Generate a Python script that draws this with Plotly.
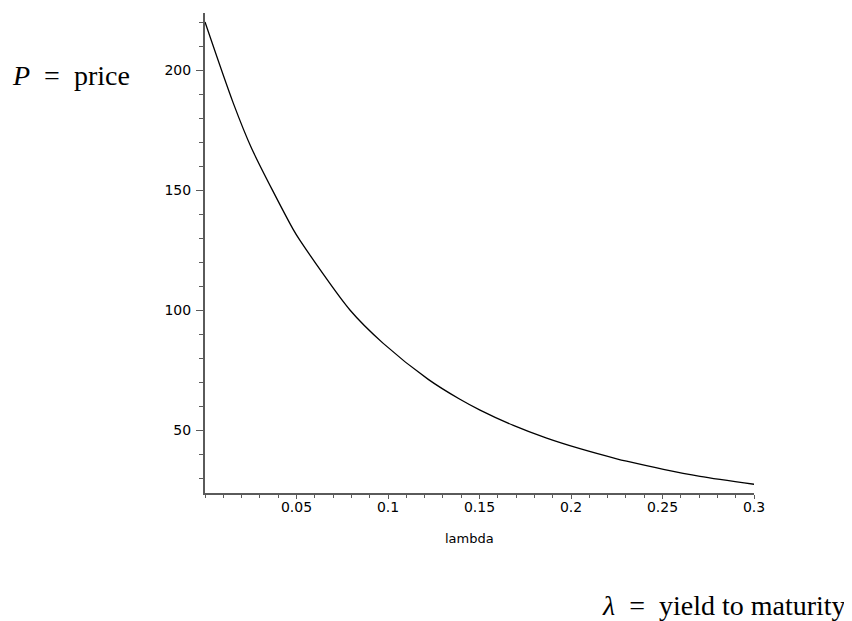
import plotly.graph_objects as go

# values
lam = [0.0, 0.0155, 0.0255, 0.0481, 0.0519, 0.0792, 0.0974, 0.122, 0.1393,
       0.1503, 0.1685, 0.1867, 0.2049, 0.225, 0.2304, 0.2505, 0.2705, 0.3]
price = [220.0, 186.1, 167.3, 133.7, 129.0, 100.0, 86.1, 71.1, 62.8,
         58.3, 51.9, 46.6, 42.2, 38.0, 37.0, 33.6, 30.7, 27.4]

x_ticks = [0.05, 0.1, 0.15, 0.2, 0.25, 0.3]
x_tick_text = ["0.05", "0.1", "0.15", "0.2", "0.25", "0.3"]
y_ticks = [50, 100, 150, 200]
y_tick_text = ["50", "100", "150", "200"]

# page body has an 8px margin; figure sized to fit the 852x621 window
OFF = 8
W, H = 852 - OFF, 621 - OFF
pl, pr, pt, pb = 205 - OFF, 754 - OFF, 13 - OFF, 493 - OFF

fig = go.Figure()
fig.add_trace(go.Scatter(x=lam, y=price, mode="lines",
                         line=dict(color="black", width=1.3, shape="spline", smoothing=0.8),
                         hoverinfo="skip", showlegend=False))

axis_color = "#5a5a5a"
tick_font = dict(family="DejaVu Sans", size=14, color="black")

fig.update_layout(
    width=W, height=H,
    margin=dict(l=pl, r=W - pr, t=pt, b=H - pb, pad=0),
    paper_bgcolor="white", plot_bgcolor="white",
    showlegend=False,
    xaxis=dict(range=[0, 0.3], showgrid=False, zeroline=False,
               showline=True, linecolor=axis_color, linewidth=2,
               tickmode="array", tickvals=x_ticks, ticktext=x_tick_text,
               ticks="outside", ticklen=4, tickcolor=axis_color, tickwidth=1,
               tickfont=tick_font, ticklabelstandoff=-4,
               minor=dict(dtick=0.01, tick0=0, ticks="outside", ticklen=3,
                          tickcolor=axis_color, tickwidth=1, showgrid=False)),
    yaxis=dict(range=[23.75, 223.75], showgrid=False, zeroline=False,
               showline=True, linecolor=axis_color, linewidth=2,
               tickmode="array", tickvals=y_ticks, ticktext=y_tick_text,
               ticks="outside", ticklen=7, tickcolor=axis_color, tickwidth=1,
               tickfont=tick_font, ticklabelstandoff=2,
               minor=dict(dtick=10, tick0=0, ticks="outside", ticklen=4,
                          tickcolor=axis_color, tickwidth=1, showgrid=False)),
)

# annotations placed by page pixel position (converted to paper coordinates)
def px2paper(x, y):
    return ((x - OFF) - pl) / (pr - pl), (pb - (y - OFF)) / (pb - pt)

notes = [
    ("lambda", 469, 538, "center", dict(family="DejaVu Sans", size=13, color="black")),
    ("<i>P</i>&nbsp; =&nbsp; price", 10, 76, "left", dict(family="Liberation Serif", size=28, color="black")),
    ("<i>λ</i>&nbsp; =&nbsp; yield to maturity", 848, 605, "right", dict(family="Liberation Serif", size=28, color="black")),
]
for text, x, y, anchor, font in notes:
    ax, ay = px2paper(x, y)
    fig.add_annotation(text=text, x=ax, y=ay, xref="paper", yref="paper",
                       xanchor=anchor, yanchor="middle", showarrow=False, font=font)

fig.write_html("out.html")
